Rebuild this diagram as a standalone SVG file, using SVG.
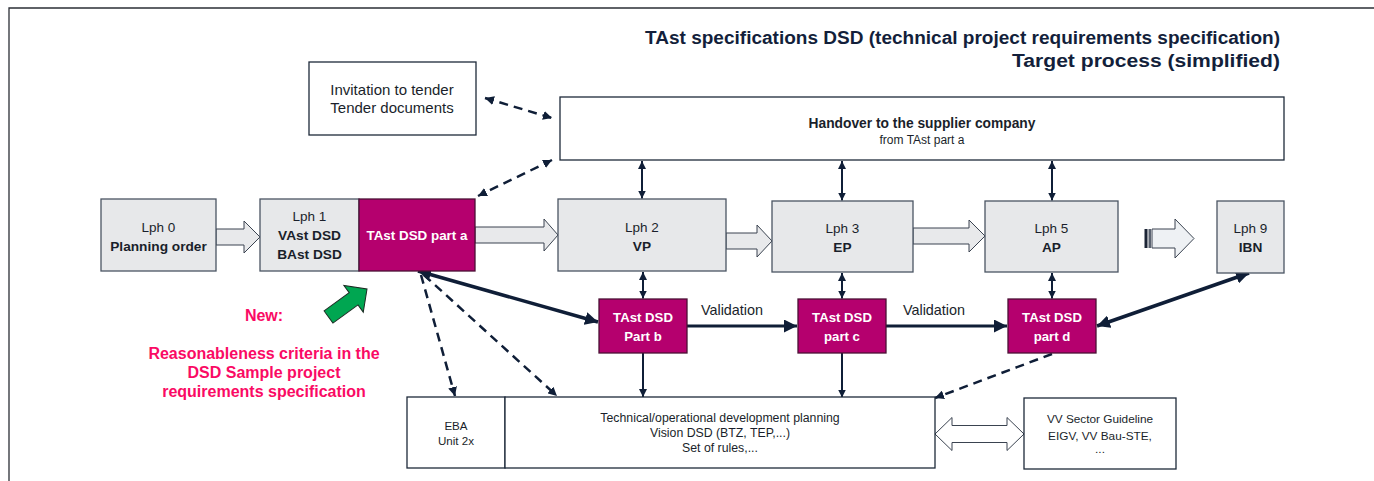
<svg xmlns="http://www.w3.org/2000/svg" width="1374" height="481" viewBox="0 0 1374 481">
<defs>
<style>
text{font-family:"Liberation Sans",Arial,sans-serif;fill:#1a1f2b;text-anchor:middle}
.b{font-weight:bold}
.t{font-size:13.5px}
.s{font-size:11.6px}
.w{fill:#fff;font-weight:bold;font-size:13.2px}
.r{fill:#fa0a64;font-weight:bold;font-size:16px}
.grey{fill:#e7e8ea;stroke:#4b5563;stroke-width:1.3}
.mag{fill:#b5006e;stroke:#4a1035;stroke-width:1.3}
.wb{fill:#fff;stroke:#1e2a3a;stroke-width:1.3}
.blk{fill:#e8e9eb;stroke:#3a4350;stroke-width:1}
.ln{stroke:#0f1e37;fill:none;stroke-width:2}
.thick{stroke:#0f1e37;fill:none;stroke-width:3.5}
.dash{stroke:#0f1e37;fill:none;stroke-width:2.5;stroke-dasharray:9 6}
</style>
<marker id="a" viewBox="0 0 10 10" refX="10" refY="5" markerWidth="8" markerHeight="8" markerUnits="userSpaceOnUse" orient="auto-start-reverse"><path d="M0,0 L10,5 L0,10 z" fill="#0f1e37"/></marker>
<marker id="ad" viewBox="0 0 10 10" refX="10" refY="5" markerWidth="9" markerHeight="9" markerUnits="userSpaceOnUse" orient="auto-start-reverse"><path d="M0,0 L10,5 L0,10 z" fill="#0f1e37"/></marker>
<marker id="at" viewBox="0 0 10 10" refX="10" refY="5" markerWidth="13" markerHeight="13" markerUnits="userSpaceOnUse" orient="auto-start-reverse"><path d="M0,0 L10,5 L0,10 z" fill="#0f1e37"/></marker>
</defs>
<rect width="1374" height="481" fill="#fff"/>
<path d="M9,481 V8 H1374" fill="none" stroke="#2b2f36" stroke-width="1.3"/>
<g id="title">
<text x="1280" y="44" class="b" style="font-size:18px;text-anchor:end;fill:#131f3b" textLength="635" lengthAdjust="spacingAndGlyphs">TAst specifications DSD (technical project requirements specification)</text>
<text x="1280" y="67" class="b" style="font-size:18px;text-anchor:end;fill:#131f3b" textLength="268" lengthAdjust="spacingAndGlyphs">Target process (simplified)</text>
</g>
<g id="connectors">
<polygon class="blk" points="216,229 244,229 244,221 260,237 244,253 244,245 216,245"/>
<polygon class="blk" points="475,227 544,227 544,219 558,235 544,251 544,243 475,243"/>
<polygon class="blk" points="726,233 757,233 757,225 772,241 757,257 757,249 726,249"/>
<polygon class="blk" points="913,228 969,228 969,220 985,236 969,252 969,244 913,244"/>
<rect x="1144.5" y="229" width="3" height="19" fill="#1c2536"/>
<rect x="1148.5" y="229" width="2.5" height="19" fill="#5a6270"/>
<polygon points="1152,229 1175,229 1175,219 1194,238.5 1175,258 1175,248 1152,248" fill="#eef1f4" stroke="#3a4350" stroke-width="1"/>
<polygon points="935,434 952,417.5 952,425.5 1007,425.5 1007,417.5 1024,434 1007,450.5 1007,442.5 952,442.5 952,450.5" fill="#fff" stroke="#3a4350" stroke-width="1"/>
<line class="ln" x1="642" y1="161" x2="642" y2="198.5" marker-start="url(#a)" marker-end="url(#a)"/>
<line class="ln" x1="842" y1="161" x2="842" y2="200.5" marker-start="url(#a)" marker-end="url(#a)"/>
<line class="ln" x1="1052" y1="161" x2="1052" y2="200.5" marker-start="url(#a)" marker-end="url(#a)"/>
<line class="ln" x1="643" y1="272" x2="643" y2="298.5" marker-start="url(#a)" marker-end="url(#a)"/>
<line class="ln" x1="842" y1="273" x2="842" y2="298.5" marker-start="url(#a)" marker-end="url(#a)"/>
<line class="ln" x1="1052" y1="273" x2="1052" y2="298.5" marker-start="url(#a)" marker-end="url(#a)"/>
<line class="ln" x1="643" y1="353" x2="643" y2="397" marker-end="url(#a)"/>
<line class="ln" x1="842" y1="353" x2="842" y2="397.5" marker-end="url(#a)"/>
<line class="thick" x1="687" y1="326" x2="797" y2="326" marker-end="url(#at)" style="stroke-width:3"/>
<line class="thick" x1="886" y1="326" x2="1007" y2="326" marker-end="url(#at)" style="stroke-width:3"/>
<line class="thick" x1="418" y1="271" x2="598" y2="322" marker-start="url(#at)" marker-end="url(#at)"/>
<line class="thick" x1="1097" y1="326" x2="1249" y2="273" marker-start="url(#at)" marker-end="url(#at)"/>
<line class="dash" x1="485" y1="98" x2="552" y2="118" marker-start="url(#ad)" marker-end="url(#ad)"/>
<line class="dash" x1="552" y1="160" x2="478" y2="196" marker-start="url(#ad)" marker-end="url(#ad)"/>
<line class="dash" x1="421" y1="275" x2="455" y2="396" marker-end="url(#ad)"/>
<line class="dash" x1="424" y1="275" x2="557" y2="396" marker-end="url(#ad)"/>
<line class="dash" x1="1052" y1="354" x2="935" y2="398" marker-end="url(#ad)"/>
<text x="732" y="315" style="font-size:14.4px">Validation</text>
<text x="934" y="315" style="font-size:14.4px">Validation</text>
</g>
<g id="invitation">
<rect class="wb" x="309" y="62" width="167" height="73"/>
<text x="392" y="95" style="font-size:15px">Invitation to tender</text>
<text x="392" y="113" style="font-size:15px">Tender documents</text>
</g>
<g id="handover">
<rect class="wb" x="560" y="97" width="724" height="63"/>
<text x="922" y="128" class="b" style="font-size:13.8px">Handover to the supplier company</text>
<text x="922" y="144" style="font-size:12px">from TAst part a</text>
</g>
<g id="lph0">
<rect class="grey" x="101" y="199" width="115" height="72"/>
<text x="158.5" y="232" class="t">Lph 0</text>
<text x="158.5" y="251" class="b" style="font-size:13.7px">Planning order</text>
</g>
<g id="lph1">
<rect class="grey" x="260" y="199" width="99" height="72"/>
<text x="309.5" y="221" class="t">Lph 1</text>
<text x="309.5" y="240" class="b" style="font-size:13.7px">VAst DSD</text>
<text x="309.5" y="259" class="b" style="font-size:13.7px">BAst DSD</text>
</g>
<g id="parta">
<rect class="mag" x="359" y="199" width="116" height="72"/>
<text x="417" y="240" class="w" style="font-size:13.4px">TAst DSD part a</text>
</g>
<g id="lph2">
<rect class="grey" x="558" y="199" width="168" height="72"/>
<text x="642" y="232" class="t">Lph 2</text>
<text x="642" y="251" class="b" style="font-size:13.7px">VP</text>
</g>
<g id="lph3">
<rect class="grey" x="772" y="201" width="141" height="71"/>
<text x="842.5" y="233" class="t">Lph 3</text>
<text x="842.5" y="252" class="b" style="font-size:13.7px">EP</text>
</g>
<g id="lph5">
<rect class="grey" x="985" y="201" width="133" height="71"/>
<text x="1051.5" y="233" class="t">Lph 5</text>
<text x="1051.5" y="252" class="b" style="font-size:13.7px">AP</text>
</g>
<g id="lph9">
<rect class="grey" x="1217" y="201" width="67" height="72"/>
<text x="1250.5" y="233" class="t">Lph 9</text>
<text x="1250.5" y="252" class="b" style="font-size:13.7px">IBN</text>
</g>
<g id="partb">
<rect class="mag" x="599" y="299" width="88" height="54"/>
<text x="643" y="322" class="w">TAst DSD</text>
<text x="643" y="341" class="w">Part b</text>
</g>
<g id="partc">
<rect class="mag" x="798" y="299" width="88" height="54"/>
<text x="842" y="322" class="w">TAst DSD</text>
<text x="842" y="341" class="w">part c</text>
</g>
<g id="partd">
<rect class="mag" x="1008" y="299" width="88" height="54"/>
<text x="1052" y="322" class="w">TAst DSD</text>
<text x="1052" y="341" class="w">part d</text>
</g>
<g id="eba">
<rect class="wb" x="407" y="397" width="98" height="71"/>
<text x="456" y="430" class="s">EBA</text>
<text x="456" y="445" class="s">Unit 2x</text>
</g>
<g id="planning">
<rect class="wb" x="505" y="397" width="430" height="71"/>
<text x="720" y="422" style="font-size:12.3px">Technical/operational development planning</text>
<text x="720" y="437" style="font-size:12.3px">Vision DSD (BTZ, TEP,...)</text>
<text x="720" y="452" style="font-size:12.3px">Set of rules,...</text>
</g>
<g id="vv">
<rect class="wb" x="1024" y="398" width="152" height="71"/>
<text x="1100" y="423" style="font-size:11.8px">VV Sector Guideline</text>
<text x="1100" y="440" style="font-size:11.8px">EIGV, VV Bau-STE,</text>
<text x="1100" y="453" style="font-size:11.8px">...</text>
</g>
<g id="new">
<polygon points="0,-7.5 31,-7.5 31,-16.5 47.6,0 31,16.5 31,7.5 0,7.5" transform="translate(328.5,317) rotate(-36)" fill="#00a651" stroke="#1b2a22" stroke-width="1"/>
<text x="264" y="321" class="r">New:</text>
<text x="264" y="359" class="r">Reasonableness criteria in the</text>
<text x="264" y="378" class="r">DSD Sample project</text>
<text x="264" y="397" class="r">requirements specification</text>
</g>
</svg>
